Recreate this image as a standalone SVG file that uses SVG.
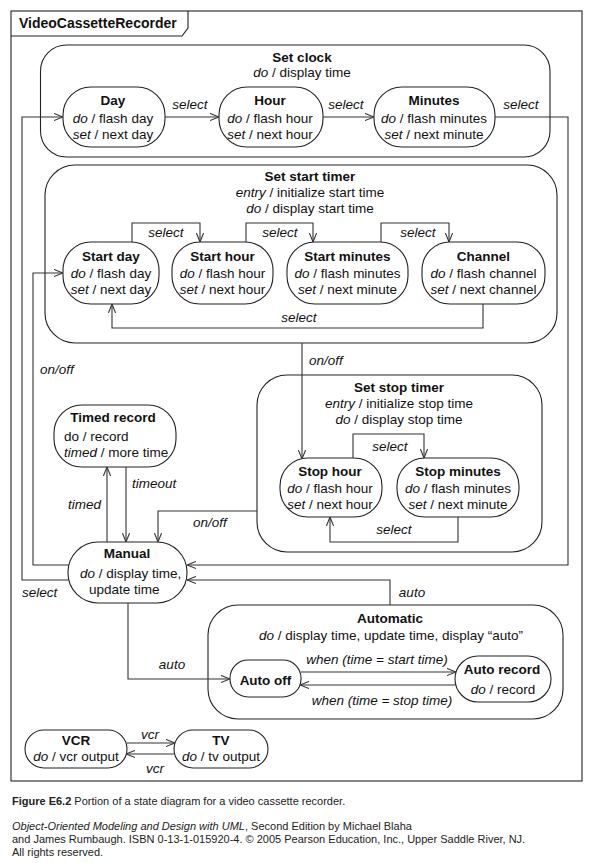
<svg xmlns="http://www.w3.org/2000/svg" width="593" height="863" viewBox="0 0 593 863">
<style>
.n{fill:none;stroke:#222;stroke-width:1.1}
.c{fill:none;stroke:#333;stroke-width:1.1}
.a{marker-end:url(#arr)}
text{font-family:"Liberation Sans",Arial,sans-serif;font-size:13.5px;fill:#111}
.b{font-weight:bold}
.i{font-style:italic}
.m{text-anchor:middle}
.cap{font-size:11px;fill:#222}
</style>
<defs>
<marker id="arr" viewBox="0 0 10 10" refX="10" refY="5" markerWidth="9" markerHeight="9" markerUnits="userSpaceOnUse" orient="auto">
<path d="M0,1 L10,5 L0,9" fill="none" stroke="#333" stroke-width="1.2"/>
</marker>
</defs>
<rect width="593" height="863" fill="#fff"/>

<g id="frame">
<rect class="n" x="11" y="11" width="571" height="770"/>
<path class="n" d="M11,36 H182 L188,28 V11"/>
<text class="b" x="19" y="28" style="font-size:14px">VideoCassetteRecorder</text>
</g>

<g id="set-clock">
<rect class="n" x="40.5" y="45" width="509.5" height="112" rx="26"/>
<text class="b m" x="302" y="62">Set clock</text>
<text class="m" x="302" y="77"><tspan class="i">do</tspan> / display time</text>
</g>
<g id="day">
<rect class="n" x="63" y="87" width="102" height="60" rx="28"/>
<text class="b m" x="113" y="105">Day</text>
<text class="m" x="113" y="123"><tspan class="i">do</tspan> / flash day</text>
<text class="m" x="113" y="139"><tspan class="i">set</tspan> / next day</text>
</g>
<g id="hour">
<rect class="n" x="219" y="87" width="104" height="60" rx="28"/>
<text class="b m" x="270" y="105">Hour</text>
<text class="m" x="270" y="123"><tspan class="i">do</tspan> / flash hour</text>
<text class="m" x="270" y="139"><tspan class="i">set</tspan> / next hour</text>
</g>
<g id="minutes">
<rect class="n" x="374" y="87" width="121" height="60" rx="28"/>
<text class="b m" x="434" y="105">Minutes</text>
<text class="m" x="434" y="123"><tspan class="i">do</tspan> / flash minutes</text>
<text class="m" x="434" y="139"><tspan class="i">set</tspan> / next minute</text>
</g>

<g id="set-start-timer">
<rect class="n" x="45" y="165" width="512" height="178" rx="30"/>
<text class="b m" x="310" y="181">Set start timer</text>
<text class="m" x="310" y="197"><tspan class="i">entry</tspan> / initialize start time</text>
<text class="m" x="310" y="213"><tspan class="i">do</tspan> / display start time</text>
</g>
<g id="start-day">
<rect class="n" x="63" y="242" width="96" height="62" rx="28"/>
<text class="b m" x="111" y="261">Start day</text>
<text class="m" x="111" y="278"><tspan class="i">do</tspan> / flash day</text>
<text class="m" x="111" y="294"><tspan class="i">set</tspan> / next day</text>
</g>
<g id="start-hour">
<rect class="n" x="172" y="242" width="101" height="62" rx="28"/>
<text class="b m" x="222.5" y="261">Start hour</text>
<text class="m" x="222.5" y="278"><tspan class="i">do</tspan> / flash hour</text>
<text class="m" x="222.5" y="294"><tspan class="i">set</tspan> / next hour</text>
</g>
<g id="start-minutes">
<rect class="n" x="287" y="242" width="121" height="62" rx="28"/>
<text class="b m" x="347.5" y="261">Start minutes</text>
<text class="m" x="347.5" y="278"><tspan class="i">do</tspan> / flash minutes</text>
<text class="m" x="347.5" y="294"><tspan class="i">set</tspan> / next minute</text>
</g>
<g id="channel">
<rect class="n" x="422" y="242" width="123" height="62" rx="28"/>
<text class="b m" x="483.5" y="261">Channel</text>
<text class="m" x="483.5" y="278"><tspan class="i">do</tspan> / flash channel</text>
<text class="m" x="483.5" y="294"><tspan class="i">set</tspan> / next channel</text>
</g>

<g id="set-stop-timer">
<rect class="n" x="257" y="375" width="285" height="177" rx="30"/>
<text class="b m" x="399" y="392">Set stop timer</text>
<text class="m" x="399" y="408"><tspan class="i">entry</tspan> / initialize stop time</text>
<text class="m" x="399" y="424"><tspan class="i">do</tspan> / display stop time</text>
</g>
<g id="stop-hour">
<rect class="n" x="280" y="458" width="102" height="59" rx="28"/>
<text class="b m" x="330" y="476">Stop hour</text>
<text class="m" x="330" y="493"><tspan class="i">do</tspan> / flash hour</text>
<text class="m" x="330" y="509"><tspan class="i">set</tspan> / next hour</text>
</g>
<g id="stop-minutes">
<rect class="n" x="397" y="458" width="122" height="59" rx="28"/>
<text class="b m" x="458" y="476">Stop minutes</text>
<text class="m" x="458" y="493"><tspan class="i">do</tspan> / flash minutes</text>
<text class="m" x="458" y="509"><tspan class="i">set</tspan> / next minute</text>
</g>

<g id="timed-record">
<rect class="n" x="54" y="405" width="122" height="62" rx="28"/>
<text class="b m" x="113" y="422">Timed record</text>
<text x="64" y="441">do / record</text>
<text x="64" y="457"><tspan class="i">timed</tspan> / more time</text>
</g>

<g id="manual">
<rect class="n" x="68" y="542" width="119" height="61" rx="30"/>
<text class="b m" x="127" y="558">Manual</text>
<text x="80" y="578"><tspan class="i">do</tspan> / display time,</text>
<text x="89" y="594">update time</text>
</g>

<g id="automatic">
<rect class="n" x="208" y="605" width="355" height="114" rx="30"/>
<text class="b m" x="390" y="623">Automatic</text>
<text class="m" x="391" y="640"><tspan class="i">do</tspan> / display time, update time, display “auto”</text>
</g>
<g id="auto-off">
<rect class="n" x="230" y="660" width="71" height="37" rx="18"/>
<text class="b m" x="265.5" y="685">Auto off</text>
</g>
<g id="auto-record">
<rect class="n" x="455" y="656" width="96" height="46" rx="23"/>
<text class="b m" x="502" y="674">Auto record</text>
<text class="m" x="503" y="694"><tspan class="i">do</tspan> / record</text>
</g>

<g id="vcr">
<rect class="n" x="25" y="730" width="102" height="38" rx="19"/>
<text class="b m" x="76" y="745">VCR</text>
<text class="m" x="76" y="761"><tspan class="i">do</tspan> / vcr output</text>
</g>
<g id="tv">
<rect class="n" x="174" y="730" width="94" height="38" rx="19"/>
<text class="b m" x="221" y="745">TV</text>
<text class="m" x="221" y="761"><tspan class="i">do</tspan> / tv output</text>
</g>

<g id="connectors">
<path class="c a" d="M165,117 H219"/>
<path class="c a" d="M323,117 H374"/>
<path class="c a" d="M495,117 H568 V565 H187"/>
<path class="c a" d="M69,580 H22 V117 H63"/>
<path class="c a" d="M69,565 H33 V273 H63"/>
<path class="c a" d="M132,242 V223 H200 V242"/>
<path class="c a" d="M246,242 V223 H313 V242"/>
<path class="c a" d="M381,242 V223 H449 V242"/>
<path class="c a" d="M483,304 V328 H112 V304"/>
<path class="c a" d="M302,343 V459"/>
<path class="c a" d="M353,458 V434 H424 V458"/>
<path class="c a" d="M458,517 V542 H330 V517"/>
<path class="c a" d="M257,511 H158 V542"/>
<path class="c a" d="M107,542 V467"/>
<path class="c a" d="M126,467 V542"/>
<path class="c a" d="M128,603 V679 H230"/>
<path class="c a" d="M390,605 V580 H187"/>
<path class="c a" d="M301,672 H456"/>
<path class="c a" d="M455,685 H300"/>
<path class="c a" d="M127,743 H175"/>
<path class="c a" d="M174,754 H126"/>
</g>

<g id="labels">
<text class="i m" x="190" y="109">select</text>
<text class="i m" x="346" y="109">select</text>
<text class="i m" x="521" y="109">select</text>
<text class="i m" x="166" y="237">select</text>
<text class="i m" x="280" y="237">select</text>
<text class="i m" x="418" y="237">select</text>
<text class="i m" x="299" y="322">select</text>
<text class="i" x="40" y="374">on/off</text>
<text class="i" x="309" y="365">on/off</text>
<text class="i m" x="390" y="451">select</text>
<text class="i m" x="394" y="534">select</text>
<text class="i" x="132" y="488">timeout</text>
<text class="i" x="68" y="509">timed</text>
<text class="i" x="193" y="527">on/off</text>
<text class="i" x="22" y="597">select</text>
<text class="i m" x="412" y="597">auto</text>
<text class="i m" x="172" y="669">auto</text>
<text class="i m" x="377" y="664">when (time = start time)</text>
<text class="i m" x="382" y="705">when (time = stop time)</text>
<text class="i m" x="150" y="739">vcr</text>
<text class="i m" x="155" y="773">vcr</text>
</g>

<g id="caption">
<text class="cap" x="12" y="805"><tspan class="b">Figure E6.2</tspan>  Portion of a state diagram for a video cassette recorder.</text>
<text class="cap" x="12" y="830"><tspan class="i">Object-Oriented Modeling and Design with UML</tspan>, Second Edition by Michael Blaha</text>
<text class="cap" x="12" y="843">and James Rumbaugh. ISBN 0-13-1-015920-4. © 2005 Pearson Education, Inc., Upper Saddle River, NJ.</text>
<text class="cap" x="12" y="856">All rights reserved.</text>
</g>
</svg>
